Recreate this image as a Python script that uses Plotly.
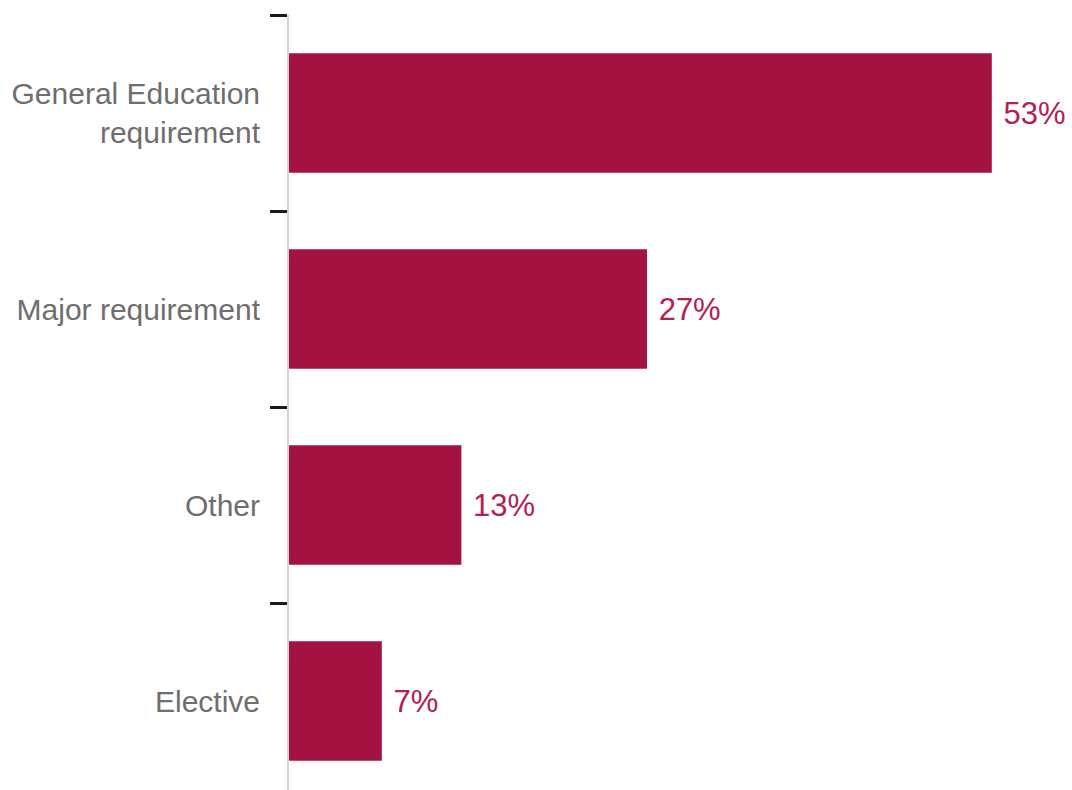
import plotly.graph_objects as go

categories = ["Elective", "Other", "Major requirement", "General Education<br>requirement"]
values = [7, 13, 27, 53]

BAR = "#a31240"
fig = go.Figure(go.Bar(
    x=values, y=categories, orientation="h",
    marker=dict(color=BAR, line=dict(width=0)),
    width=0.61,
    texttemplate=" %{x}%", textposition="outside",
    textfont=dict(family="Liberation Sans, sans-serif", size=31, color="#b3204f"),
    cliponaxis=False,
))

fig.update_layout(
    width=1072, height=790,
    margin=dict(l=289, r=0, t=15, b=0),
    plot_bgcolor="white", paper_bgcolor="white",
    showlegend=False,
    xaxis=dict(range=[0, 783/13.26], visible=False),
    yaxis=dict(
        range=[3.5 - 775/196, 3.5],
        tickson="boundaries", ticks="outside", ticklen=17, tickwidth=3, tickcolor="#1a1a1a",
        showline=True, linecolor="#d3d3d6", linewidth=2,
        showgrid=False,
        ticklabelstandoff=21,
        tickfont=dict(family="Liberation Sans, sans-serif", size=30, color="#6e6e6e"),
    ),
)

fig.write_html("out.html")
